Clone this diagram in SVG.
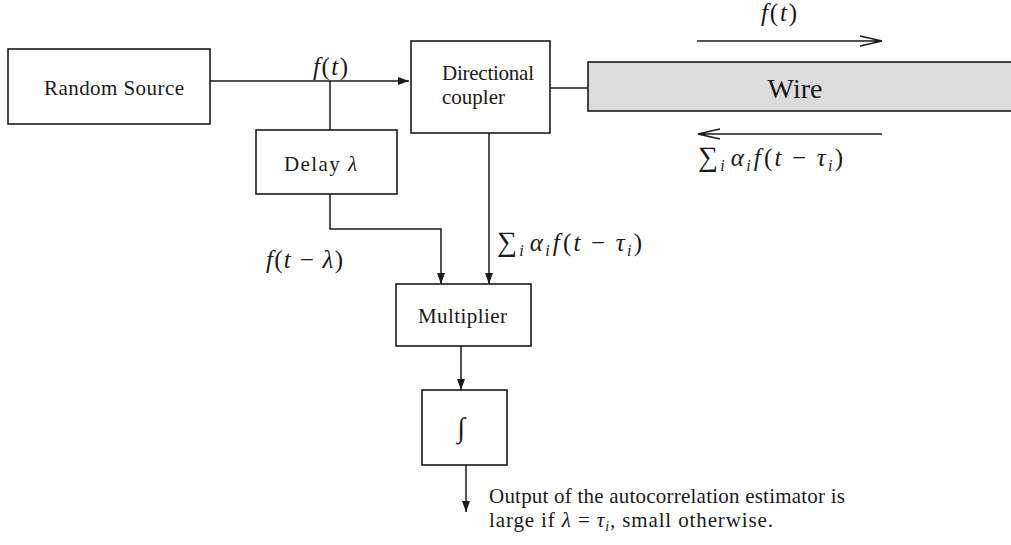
<svg xmlns="http://www.w3.org/2000/svg" width="1011" height="545" viewBox="0 0 1011 545">
<style>
.box{fill:#fff;stroke:#1a1a1a;stroke-width:1.6}
.wire{fill:#dcdcdc;stroke:#1a1a1a;stroke-width:1.6}
.ln{fill:none;stroke:#1a1a1a;stroke-width:1.5}
.t{font-family:"Liberation Serif",serif;font-size:21px;fill:#1a1a1a}
.m{font-family:"Liberation Serif",serif;font-size:25px;font-style:italic;fill:#1a1a1a}
.n{font-style:normal}
.s{font-size:16px}
.sig{font-style:normal;font-size:28px}
.i{font-style:italic}
</style>
<defs>
<marker id="ah" markerWidth="12" markerHeight="10" refX="11" refY="4" orient="auto" markerUnits="userSpaceOnUse">
<path d="M0,0 L11,4 L0,8 Z" fill="#1a1a1a"/>
</marker>
</defs>
<rect width="1011" height="545" fill="#fff"/>
<g id="connectors">
<path class="ln" d="M210,81 H409" marker-end="url(#ah)"/>
<path class="ln" d="M330,81 V130"/>
<path class="ln" d="M330,194 V229 H441 V284" marker-end="url(#ah)"/>
<path class="ln" d="M489,133 V284" marker-end="url(#ah)"/>
<path class="ln" d="M550,88 H588"/>
<path class="ln" d="M461,346 V390" marker-end="url(#ah)"/>
<path class="ln" d="M466,465 V512" marker-end="url(#ah)"/>
<path class="ln" d="M697,41 H882 M860,36 L882,41 L860,46"/>
<path class="ln" d="M882,134 H698 M720,129 L698,134 L720,139"/>
</g>
<g id="random-source">
<rect class="box" x="8" y="49" width="202" height="75"/>
<text class="t" x="44" y="95" textLength="140">Random Source</text>
</g>
<g id="directional-coupler">
<rect class="box" x="411" y="41" width="139" height="92"/>
<text class="t" x="442" y="80" textLength="92">Directional</text>
<text class="t" x="442" y="104">coupler</text>
</g>
<g id="wire">
<rect class="wire" x="588" y="62" width="430" height="49"/>
<text class="t" x="795" y="98" text-anchor="middle" style="font-size:28px">Wire</text>
</g>
<g id="delay">
<rect class="box" x="256" y="130" width="141" height="64"/>
<text class="t" x="284" y="171" textLength="73">Delay <tspan class="i">λ</tspan></text>
</g>
<g id="multiplier">
<rect class="box" x="396" y="284" width="135" height="62"/>
<text class="t" x="418" y="323" textLength="89">Multiplier</text>
</g>
<g id="integrator">
<rect class="box" x="422" y="390" width="85" height="75"/>
<text class="m" x="461" y="437" text-anchor="middle" style="font-size:28px">∫</text>
</g>
<g id="labels">
<text class="m" x="313" y="75" textLength="35">f<tspan class="n">(</tspan>t<tspan class="n">)</tspan></text>
<text class="m" x="761" y="21" textLength="36">f<tspan class="n">(</tspan>t<tspan class="n">)</tspan></text>
<text class="m" x="266" y="268" textLength="77">f<tspan class="n">(</tspan>t<tspan class="n"> − </tspan>λ<tspan class="n">)</tspan></text>
<text class="m" x="698" y="166" textLength="145"><tspan class="sig">∑</tspan><tspan class="s" dy="5">i</tspan><tspan dx="4" dy="-5">α</tspan><tspan class="s" dy="5">i</tspan><tspan dx="1" dy="-5">f</tspan><tspan class="n" dx="1">(</tspan>t<tspan class="n"> − </tspan>τ<tspan class="s" dy="5">i</tspan><tspan class="n" dy="-5">)</tspan></text>
<text class="m" x="497" y="251" textLength="145"><tspan class="sig">∑</tspan><tspan class="s" dy="5">i</tspan><tspan dx="4" dy="-5">α</tspan><tspan class="s" dy="5">i</tspan><tspan dx="1" dy="-5">f</tspan><tspan class="n" dx="1">(</tspan>t<tspan class="n"> − </tspan>τ<tspan class="s" dy="5">i</tspan><tspan class="n" dy="-5">)</tspan></text>
<text class="t" x="489" y="503" textLength="356">Output of the autocorrelation estimator is</text>
<text class="t" x="489" y="527" textLength="284">large if <tspan class="i">λ</tspan> = <tspan class="i">τ</tspan><tspan class="i" style="font-size:14px" dy="4">i</tspan><tspan dy="-4">, small otherwise.</tspan></text>
</g>
</svg>
